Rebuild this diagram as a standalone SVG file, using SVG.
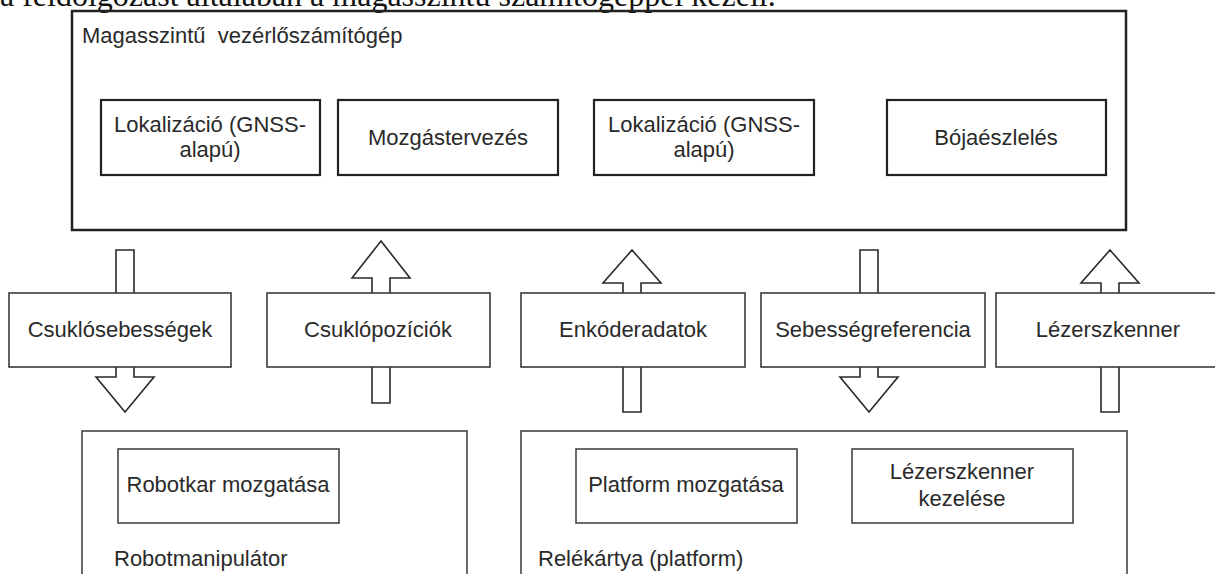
<svg xmlns="http://www.w3.org/2000/svg" width="1215" height="574" viewBox="0 0 1215 574">
<style>
.t{font-family:"Liberation Sans",Arial,sans-serif;font-size:22px;fill:#2a2a2a}
.c{text-anchor:middle}
.ser{font-family:"Liberation Serif","Times New Roman",serif;font-size:32px;fill:#111}
.outer{fill:none;stroke:#222;stroke-width:2.5}
.inner{fill:#fff;stroke:#222;stroke-width:2.2}
.lbl{fill:#fff;stroke:#3a3a3a;stroke-width:1.6}
.sub{fill:#fff;stroke:#444;stroke-width:1.6}
.arr{fill:#fff;stroke:#2a2a2a;stroke-width:1.6;stroke-linejoin:miter}
</style>
<rect width="1215" height="574" fill="#fff"/>
<text class="ser" x="0" y="6">a feldolgozást általában a magasszintű számítógéppel kezeli.</text>

<g id="hlc">
<rect class="outer" x="72" y="11" width="1054" height="219"/>
<text class="t" x="82" y="43" xml:space="preserve">Magasszintű  vezérlőszámítógép</text>
</g>
<g id="lok1">
<rect class="inner" x="101" y="100" width="219" height="75"/>
<text class="t c" x="210" y="132">Lokalizáció (GNSS-</text>
<text class="t c" x="210" y="157">alapú)</text>
</g>
<g id="mozg">
<rect class="inner" x="338" y="100" width="220" height="75"/>
<text class="t c" x="448" y="145">Mozgástervezés</text>
</g>
<g id="lok2">
<rect class="inner" x="594" y="100" width="220" height="75"/>
<text class="t c" x="704" y="132">Lokalizáció (GNSS-</text>
<text class="t c" x="704" y="157">alapú)</text>
</g>
<g id="boja">
<rect class="inner" x="887" y="100" width="219" height="75"/>
<text class="t c" x="996" y="145">Bójaészlelés</text>
</g>

<g id="connectors">
<polygon class="arr" points="116,250 134,250 134,377 154,377 125,412 96,377 116,377"/>
<polygon class="arr" points="381,241 410,278 390,278 390,403 372,403 372,278 352,278"/>
<polygon class="arr" points="632,250 661,283 641,283 641,412 623,412 623,283 603,283"/>
<polygon class="arr" points="860,250 878,250 878,377 898,377 869,412 840,377 860,377"/>
<polygon class="arr" points="1110,250 1139,283 1119,283 1119,412 1101,412 1101,283 1081,283"/>
</g>

<g id="csuklosebessegek">
<rect class="lbl" x="9" y="293" width="222" height="74"/>
<text class="t c" x="120" y="337">Csuklósebességek</text>
</g>
<g id="csuklopoziciok">
<rect class="lbl" x="267" y="293" width="223" height="74"/>
<text class="t c" x="378" y="337">Csuklópozíciók</text>
</g>
<g id="enkoderadatok">
<rect class="lbl" x="521" y="293" width="224" height="74"/>
<text class="t c" x="633" y="337">Enkóderadatok</text>
</g>
<g id="sebessegreferencia">
<rect class="lbl" x="761" y="293" width="224" height="74"/>
<text class="t c" x="873" y="337">Sebességreferencia</text>
</g>
<g id="lezerszkenner">
<rect class="lbl" x="996" y="293" width="224" height="74"/>
<text class="t c" x="1108" y="337">Lézerszkenner</text>
</g>

<g id="robotmanipulator">
<rect class="sub" x="82" y="431" width="385" height="160"/>
<text class="t" x="114" y="566">Robotmanipulátor</text>
</g>
<g id="robotkar">
<rect class="sub" x="118" y="449" width="221" height="74"/>
<text class="t c" x="228" y="492">Robotkar mozgatása</text>
</g>
<g id="relekartya">
<rect class="sub" x="521" y="431" width="606" height="160"/>
<text class="t" x="538" y="566">Relékártya (platform)</text>
</g>
<g id="platform">
<rect class="sub" x="576" y="449" width="221" height="74"/>
<text class="t c" x="686" y="492">Platform mozgatása</text>
</g>
<g id="lezerkezeles">
<rect class="sub" x="852" y="449" width="221" height="74"/>
<text class="t c" x="962" y="479">Lézerszkenner</text>
<text class="t c" x="962" y="506">kezelése</text>
</g>
</svg>
